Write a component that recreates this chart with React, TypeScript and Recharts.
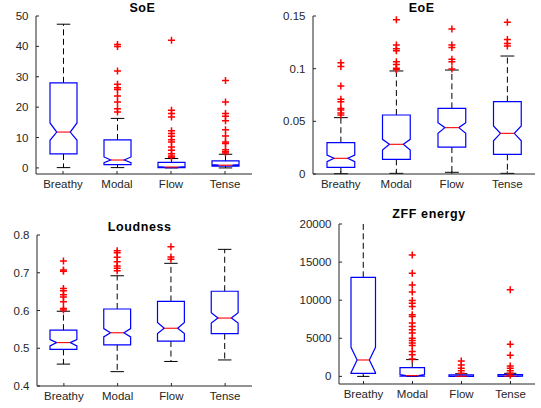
import React from "react";
import { ComposedChart, Bar, XAxis, YAxis } from "recharts";

const categories = ["Breathy", "Modal", "Flow", "Tense"];

// each row: [low whisker, q1, notch low, median, notch high, q3, high whisker]
const soeBoxes = [
  [0.1, 4.6, 9.1, 11.8, 14.8, 28.0, 47.3],
  [0.1, 1.1, 1.7, 2.6, 3.6, 9.2, 16.3],
  [0.0, 0.1, 0.2, 0.3, 0.45, 1.8, 3.1],
  [0.0, 0.6, 0.7, 0.9, 1.1, 2.3, 4.5],
];
const soeOutliers = [
  [],
  [40.6, 40.0, 31.9, 27.5, 26.4, 25.8, 23.7, 21.7, 19.5, 18.4],
  [42.0, 19.0, 17.9, 16.8, 12.2, 11.3, 10.4, 9.3, 8.5, 6.9, 5.8, 4.7, 3.9, 3.5],
  [28.8, 21.7, 17.9, 17.0, 15.5, 12.6, 10.5, 8.5, 8.0, 6.0, 5.3, 4.9],
];
const soeTicks = [0, 10, 20, 30, 40, 50];

const eoeBoxes = [
  [0.0003, 0.0063, 0.0117, 0.0149, 0.018, 0.0297, 0.0535],
  [0.0006, 0.0139, 0.0228, 0.0282, 0.0329, 0.056, 0.0978],
  [0.0016, 0.0256, 0.0386, 0.044, 0.0487, 0.0623, 0.0987],
  [0.0006, 0.0187, 0.0316, 0.0386, 0.0456, 0.0687, 0.112],
];
const eoeOutliers = [
  [0.1057, 0.102, 0.0835, 0.0709, 0.0687, 0.0623, 0.0608, 0.058, 0.056],
  [0.1465, 0.1225, 0.119, 0.117, 0.1066, 0.104, 0.1003, 0.0992],
  [0.1377, 0.1225, 0.12, 0.109, 0.1066, 0.0997],
  [0.144, 0.1278, 0.124, 0.1215],
];
const eoeTicks = [0, 0.05, 0.1, 0.15];

const loudBoxes = [
  [0.458, 0.497, 0.506, 0.515, 0.523, 0.548, 0.598],
  [0.438, 0.509, 0.53, 0.541, 0.552, 0.604, 0.692],
  [0.465, 0.519, 0.539, 0.553, 0.568, 0.624, 0.725],
  [0.469, 0.539, 0.567, 0.58, 0.594, 0.651, 0.762],
];
const loudOutliers = [
  [0.731, 0.707, 0.704, 0.658, 0.652, 0.642, 0.636, 0.623, 0.605, 0.601],
  [0.758, 0.753, 0.741, 0.729, 0.718, 0.712, 0.705],
  [0.769, 0.742, 0.736],
  [],
];
const loudTicks = [0.4, 0.5, 0.6, 0.7, 0.8];

const zffBoxes = [
  [0, 407, 485, 2152, 3818, 13000, 23000],
  [0, 40, 45, 100, 250, 1140, 2200],
  [0, 5, 10, 20, 40, 200, 350],
  [0, 5, 15, 30, 50, 220, 400],
];
const zffOutliers = [
  [],
  [15940, 13540, 12010, 11090, 9960, 9610, 9170, 8080, 7860, 6990, 6550, 6110, 5680, 5020, 4720, 4370, 4060, 3280, 2840, 2270],
  [2020, 1500, 1060, 750, 400],
  [11380, 4210, 2770, 1360, 1060, 750, 400, 140],
];
const zffTicks = [0, 5000, 10000, 15000, 20000];

const AXIS = "#262626";
const FONT = "'Liberation Sans', Arial, Helvetica, sans-serif";

function rows(boxes: number[][], outliers: number[][]) {
  return categories.map((name, i) => {
    const [lo, q1, nLo, med, nHi, q3, hi] = boxes[i];
    return { name, box: [q1, q3], lo, q1, nLo, med, nHi, q3, hi, out: outliers[i] };
  });
}

// box, notch, whiskers and outliers, all placed from the bar's own y scale
function BoxShape(props: any) {
  const { x, y, width, height, payload } = props;
  const { lo, q1, nLo, med, nHi, q3, hi, out } = payload;
  const py = (v: number) => y + (height * (q3 - v)) / (q3 - q1);
  const cx = x + width / 2;
  const l = x;
  const r = x + width;
  const il = x + width / 4;
  const ir = x + (width * 3) / 4;
  const pts = [
    [l, py(q1)], [l, py(nLo)], [il, py(med)], [l, py(nHi)], [l, py(q3)],
    [r, py(q3)], [r, py(nHi)], [ir, py(med)], [r, py(nLo)], [r, py(q1)],
  ].map((p) => p.join(",")).join(" ");
  return (
    <g>
      <line x1={cx} x2={cx} y1={py(q3)} y2={py(hi)} stroke="#000" strokeDasharray="6 3.5" />
      <line x1={cx} x2={cx} y1={py(q1)} y2={py(lo)} stroke="#000" strokeDasharray="6 3.5" />
      <line x1={il} x2={ir} y1={py(hi)} y2={py(hi)} stroke="#000" />
      <line x1={il} x2={ir} y1={py(lo)} y2={py(lo)} stroke="#000" />
      <polygon points={pts} fill="none" stroke="#0000ff" strokeWidth={1.2} />
      <line x1={il} x2={ir} y1={py(med)} y2={py(med)} stroke="#ff0000" strokeWidth={1.1} />
      {out.map((v: number, k: number) => (
        <path key={k} d={`M${cx - 3.5},${py(v)}h7M${cx},${py(v) - 3.5}v7`} stroke="#ff0000" strokeWidth={1.5} />
      ))}
    </g>
  );
}

const LeftTick = (p: any) => (
  <g>
    <line x1={p.x} x2={p.x + 3} y1={p.y} y2={p.y} stroke={AXIS} />
    <text x={p.x - 7.5} y={p.y} dy={4} textAnchor="end" fontSize={11.5} fontFamily={FONT} fill={AXIS}>
      {String(p.payload.value)}
    </text>
  </g>
);

const RightTick = (p: any) => <line x1={p.x - 3} x2={p.x} y1={p.y} y2={p.y} stroke={AXIS} />;

const BottomTick = (p: any) => (
  <g>
    <line x1={p.x} x2={p.x} y1={p.y} y2={p.y - 3} stroke={AXIS} />
    <text x={p.x} y={p.y + 14} textAnchor="middle" fontSize={11.5} fontFamily={FONT} fill={AXIS}>
      {p.payload.value}
    </text>
  </g>
);

const TopTick = (p: any) => <line x1={p.x} x2={p.x} y1={p.y} y2={p.y + 3} stroke={AXIS} />;

type PanelProps = {
  originX: number;
  left: number;
  top: number;
  right: number;
  bottom: number;
  domain: number[];
  ticks: number[];
  data: any[];
  clip?: boolean;
};

function Panel({ originX, left, top, right, bottom, domain, ticks, data, clip }: PanelProps) {
  const mTop = 6;
  const mRight = 4;
  const xH = 22;
  const yW = left - originX;
  const plotW = right - left;
  const plotH = bottom - top;
  return (
    <div style={{ position: "absolute", left: originX, top: top - mTop }}>
      <ComposedChart
        width={yW + plotW + mRight}
        height={mTop + plotH + xH}
        data={data}
        margin={{ top: mTop, right: mRight, bottom: 0, left: 0 }}
      >
        <XAxis
          dataKey="name"
          height={xH}
          axisLine={{ stroke: AXIS }}
          tickLine={false}
          tickSize={0}
          tickMargin={0}
          interval={0}
          tick={(p: any) => <BottomTick {...p} />}
        />
        <XAxis
          xAxisId="top"
          orientation="top"
          dataKey="name"
          height={0}
          axisLine={{ stroke: AXIS }}
          tickLine={false}
          tickSize={0}
          tickMargin={0}
          interval={0}
          tick={(p: any) => <TopTick {...p} />}
        />
        <YAxis
          type="number"
          width={yW}
          domain={domain}
          ticks={ticks}
          allowDataOverflow={!!clip}
          axisLine={{ stroke: AXIS }}
          tickLine={false}
          tickSize={0}
          tickMargin={0}
          interval={0}
          tick={(p: any) => <LeftTick {...p} />}
        />
        <YAxis
          yAxisId="right"
          orientation="right"
          type="number"
          width={0}
          domain={domain}
          ticks={ticks}
          allowDataOverflow
          axisLine={{ stroke: AXIS }}
          tickLine={false}
          tickSize={0}
          tickMargin={0}
          interval={0}
          tick={(p: any) => <RightTick {...p} />}
        />
        <Bar
          dataKey="box"
          barSize={plotW / categories.length / 2}
          shape={(p: any) => <BoxShape {...p} />}
          isAnimationActive={false}
        />
      </ComposedChart>
    </div>
  );
}

export default function App() {
  return (
    <div style={{ position: "absolute", left: 0, top: 0, width: 541, height: 408, background: "#fff", fontFamily: FONT }}>
      <Panel originX={0} left={36} top={16} right={252} bottom={174} domain={[-2, 50]} ticks={soeTicks} data={rows(soeBoxes, soeOutliers)} />
      <Panel originX={272} left={313} top={16} right={535} bottom={174} domain={[0, 0.15]} ticks={eoeTicks} data={rows(eoeBoxes, eoeOutliers)} />
      <Panel originX={0} left={37} top={235} right={252} bottom={386} domain={[0.4, 0.8]} ticks={loudTicks} data={rows(loudBoxes, loudOutliers)} />
      <Panel originX={272} left={339} top={224} right={535} bottom={384} domain={[-1000, 20000]} ticks={zffTicks} data={rows(zffBoxes, zffOutliers)} clip />
      <svg width={541} height={408} style={{ position: "absolute", left: 0, top: 0, pointerEvents: "none" }}>
        <g fontFamily={FONT} fontWeight="bold" fontSize={12.5} fill="#000" textAnchor="middle" letterSpacing={0.6}>
          <text x={142.5} y={11.7}>SoE</text>
          <text x={421.7} y={11.7}>EoE</text>
          <text x={139.7} y={230.7}>Loudness</text>
          <text x={429} y={218.3}>ZFF energy</text>
        </g>
      </svg>
    </div>
  );
}
